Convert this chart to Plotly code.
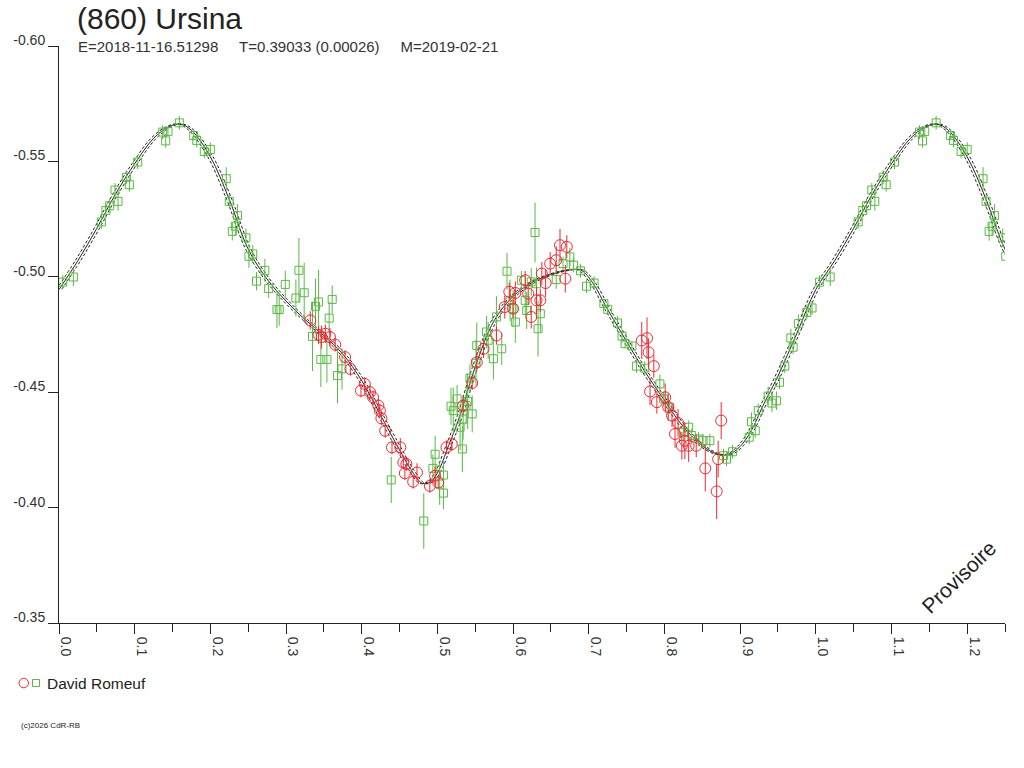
import plotly.graph_objects as go

# ---------------- data ----------------
green_phase = [0.005, 0.019, 0.056, 0.062, 0.067, 0.074, 0.078, 0.089, 0.093, 0.104,
               0.137, 0.141, 0.144, 0.159, 0.178, 0.182, 0.192, 0.200, 0.221, 0.225,
               0.229, 0.233, 0.236, 0.247, 0.251, 0.256, 0.261,
               0.272, 0.277, 0.288, 0.291, 0.299, 0.313, 0.317, 0.324, 0.335, 0.339,
               0.343, 0.346, 0.354, 0.357, 0.361, 0.368, 0.374, 0.439, 0.482, 0.494,
               0.497, 0.503, 0.508, 0.508, 0.518, 0.521, 0.526, 0.530, 0.533, 0.534,
               0.538, 0.540, 0.543, 0.546, 0.551, 0.552,
               0.565, 0.567, 0.574, 0.578, 0.585, 0.592, 0.596, 0.600, 0.603, 0.611,
               0.616, 0.618, 0.624, 0.629, 0.631, 0.633, 0.636, 0.657, 0.666, 0.675,
               0.680, 0.689, 0.697, 0.707,
               0.720, 0.725, 0.738, 0.744, 0.748, 0.757, 0.763, 0.774, 0.794, 0.799,
               0.807, 0.825, 0.832, 0.836, 0.845, 0.851, 0.860, 0.878, 0.882, 0.890,
               0.912, 0.915, 0.920, 0.924,
               0.937, 0.942, 0.948, 0.952, 0.959, 0.967, 0.970, 0.977, 0.988, 0.995]
green_mag = [-0.4977, -0.4999, -0.5238, -0.5287, -0.5308, -0.5376, -0.5327, -0.5431, -0.5399, -0.5497,
             -0.5627, -0.5589, -0.5630, -0.5667, -0.5612, -0.5591, -0.5543, -0.5552, -0.5425, -0.5327,
             -0.5197, -0.5219, -0.5265, -0.5169, -0.5089, -0.5099, -0.4981,
             -0.5028, -0.4949, -0.4858, -0.4858, -0.4967, -0.4908, -0.5028, -0.4931, -0.4742, -0.4872,
             -0.4891, -0.4642, -0.4642, -0.4821, -0.4902, -0.4572, -0.4601, -0.4120, -0.3942, -0.4170,
             -0.4231, -0.4102, -0.4141, -0.4063, -0.4439, -0.4420, -0.4471, -0.4348, -0.4254, -0.4384,
             -0.4442, -0.4460, -0.4561, -0.4406, -0.4626, -0.4702,
             -0.4761, -0.4725, -0.4645, -0.4826, -0.4688, -0.5024, -0.4898, -0.4862, -0.4804, -0.4985,
             -0.4898, -0.4854, -0.4978, -0.5192, -0.4970, -0.4775, -0.4840, -0.4988, -0.5057, -0.5086,
             -0.5050, -0.5026, -0.4959, -0.4973,
             -0.4884, -0.4859, -0.4800, -0.4743, -0.4710, -0.4700, -0.4613, -0.4604, -0.4536, -0.4471,
             -0.4435, -0.4326, -0.4348, -0.4312, -0.4297, -0.4290, -0.4290, -0.4225, -0.4210, -0.4242,
             -0.4305, -0.4372, -0.4333, -0.4420,
             -0.4483, -0.4453, -0.4463, -0.4543, -0.4613, -0.4735, -0.4695, -0.4797, -0.4845, -0.4865]
green_err = [0.003, 0.004, 0.003, 0.003, 0.003, 0.003, 0.004, 0.003, 0.003, 0.003,
             0.003, 0.003, 0.002, 0.003, 0.002, 0.003, 0.003, 0.003, 0.005, 0.003,
             0.004, 0.004, 0.005, 0.004, 0.005, 0.004, 0.004,
             0.005, 0.004, 0.008, 0.007, 0.006, 0.008, 0.014, 0.013, 0.015, 0.012,
             0.014, 0.012, 0.010, 0.007, 0.006, 0.012, 0.009, 0.010, 0.012, 0.006,
             0.008, 0.009, 0.006, 0.007, 0.008, 0.010, 0.006, 0.010, 0.010, 0.009,
             0.008, 0.012, 0.006, 0.008, 0.010, 0.010,
             0.007, 0.008, 0.009, 0.009, 0.007, 0.008, 0.009, 0.008, 0.009, 0.004,
             0.006, 0.008, 0.006, 0.013, 0.007, 0.012, 0.008, 0.004, 0.003, 0.004,
             0.003, 0.003, 0.003, 0.003,
             0.002, 0.002, 0.003, 0.003, 0.002, 0.002, 0.003, 0.003, 0.004, 0.003,
             0.003, 0.004, 0.003, 0.003, 0.003, 0.003, 0.003, 0.003, 0.003, 0.003,
             0.003, 0.004, 0.003, 0.003,
             0.004, 0.004, 0.004, 0.003, 0.003, 0.004, 0.003, 0.004, 0.003, 0.003]

red_phase = [0.332, 0.343, 0.347, 0.352, 0.358, 0.365, 0.378, 0.385, 0.399, 0.404,
             0.411, 0.415, 0.422, 0.424, 0.426, 0.431, 0.440, 0.451, 0.455, 0.459,
             0.457, 0.468, 0.473, 0.490, 0.497, 0.501, 0.512, 0.519, 0.534, 0.546,
             0.552, 0.561, 0.578, 0.589, 0.595, 0.600, 0.603, 0.616, 0.620, 0.624,
             0.631, 0.636, 0.638, 0.643, 0.649, 0.657, 0.662, 0.669, 0.671,
             0.770, 0.777, 0.779, 0.786, 0.781, 0.790, 0.801, 0.805, 0.810, 0.818,
             0.814, 0.827, 0.823, 0.832, 0.842, 0.854, 0.871, 0.875, 0.869]
red_mag = [-0.4811, -0.4749, -0.4739, -0.4753, -0.4739, -0.4706, -0.4652, -0.4601, -0.4507, -0.4536,
           -0.4500, -0.4478, -0.4442, -0.4420, -0.4387, -0.4333, -0.4261, -0.4261, -0.4196, -0.4189,
           -0.4149, -0.4112, -0.4152, -0.4094, -0.4138, -0.4109, -0.4261, -0.4275, -0.4442, -0.4540,
           -0.4630, -0.4688, -0.4746, -0.4869, -0.4935, -0.4862, -0.4930, -0.4985, -0.4927, -0.4826,
           -0.4898, -0.4898, -0.5014, -0.4973, -0.5057, -0.5072, -0.5137, -0.4992, -0.5130,
           -0.4724, -0.4734, -0.4673, -0.4613, -0.4503, -0.4457, -0.4478, -0.4435, -0.4399, -0.4367,
           -0.4319, -0.4290, -0.4268, -0.4268, -0.4268, -0.4170, -0.4210, -0.4377, -0.4070]
red_err = [0.004, 0.004, 0.005, 0.004, 0.004, 0.003, 0.003, 0.003, 0.003, 0.003,
           0.003, 0.003, 0.003, 0.003, 0.003, 0.003, 0.003, 0.004, 0.003, 0.003,
           0.003, 0.003, 0.004, 0.003, 0.004, 0.003, 0.003, 0.003, 0.004, 0.003,
           0.004, 0.004, 0.004, 0.005, 0.004, 0.004, 0.005, 0.004, 0.005, 0.005,
           0.006, 0.005, 0.005, 0.006, 0.005, 0.006, 0.007, 0.006, 0.005,
           0.008, 0.009, 0.006, 0.005, 0.006, 0.005, 0.006, 0.006, 0.005, 0.006,
           0.006, 0.008, 0.006, 0.007, 0.005, 0.010, 0.008, 0.008, 0.012]

curve_phase = [0.000, 0.025, 0.050, 0.075, 0.100, 0.125, 0.145, 0.160, 0.175, 0.200,
               0.225, 0.250, 0.275, 0.300, 0.325, 0.350, 0.375, 0.400, 0.425, 0.450,
               0.465, 0.480, 0.490, 0.500, 0.515, 0.530, 0.550, 0.575, 0.600, 0.625,
               0.650, 0.675, 0.690, 0.705, 0.725, 0.750, 0.775, 0.800, 0.825, 0.850,
               0.870, 0.885, 0.900, 0.915, 0.930, 0.950, 0.975, 1.000]
curve_mag = [-0.4945, -0.5070, -0.5210, -0.5360, -0.5490, -0.5600, -0.5650, -0.5662, -0.5635, -0.5520,
             -0.5335, -0.5120, -0.4990, -0.4895, -0.4815, -0.4745, -0.4665, -0.4550, -0.4400, -0.4250,
             -0.4165, -0.4105, -0.4110, -0.4150, -0.4270, -0.4400, -0.4610, -0.4810, -0.4915, -0.4975,
             -0.5010, -0.5030, -0.5028, -0.4975, -0.4858, -0.4720, -0.4585, -0.4465, -0.4350, -0.4268,
             -0.4232, -0.4230, -0.4265, -0.4335, -0.4440, -0.4570, -0.4755, -0.4945]
curve_shift = 0.0035

x_ticks = [0.0, 0.1, 0.2, 0.3, 0.4, 0.5, 0.6, 0.7, 0.8, 0.9, 1.0, 1.1, 1.2]
y_ticks = [-0.60, -0.55, -0.50, -0.45, -0.40, -0.35]

title_text = "(860) Ursina"
subtitle_text = ("E=2018-11-16.51298" + "&nbsp;" * 5 + "T=0.39033 (0.00026)" + "&nbsp;" * 5
                 + "M=2019-02-21")
observer = "David Romeuf"
copyright_text = "(c)2026 CdR-RB"
watermark = "Provisoire"

GREEN = "rgb(90,185,70)"
RED = "rgb(240,40,50)"
FONT = "Liberation Sans, Arial, sans-serif"

# plot area in pixels
L, R, T, B = 59, 1005, 46, 623
PW, PH = R - L, B - T


def px(xp):
    return (xp - L) / PW


def py(yp):
    return (B - yp) / PH


# phase-folded light curve repeats beyond phase 1.0
def wrap(xs, ys, es):
    ox, oy, oe = list(xs), list(ys), list(es)
    for x, y, e in zip(xs, ys, es):
        if x + 1 <= 1.3:
            ox.append(x + 1)
            oy.append(y)
            oe.append(e)
    return ox, oy, oe


cx = list(curve_phase) + [p + 1 for p in curve_phase[1:] if p + 1 <= 1.3]
cy = list(curve_mag) + [m for p, m in zip(curve_phase[1:], curve_mag[1:]) if p + 1 <= 1.3]

fig = go.Figure()

for s in (-curve_shift, curve_shift):
    fig.add_trace(go.Scatter(x=[p + s for p in cx], y=cy, mode="lines",
                             line=dict(color="#222", width=1, dash="3px,2px", shape="spline"),
                             hoverinfo="skip", showlegend=False))
fig.add_trace(go.Scatter(x=cx, y=cy, mode="lines",
                         line=dict(color="#222", width=1, shape="spline"),
                         hoverinfo="skip", showlegend=False))

gx, gy, ge = wrap(green_phase, green_mag, green_err)
fig.add_trace(go.Scatter(x=gx, y=gy, mode="markers",
                         marker=dict(symbol="square-open", size=8, color=GREEN,
                                     line=dict(width=1, color=GREEN)),
                         error_y=dict(type="data", array=ge, color=GREEN, thickness=1, width=0),
                         showlegend=False))
rx, ry, re_ = wrap(red_phase, red_mag, red_err)
fig.add_trace(go.Scatter(x=rx, y=ry, mode="markers",
                         marker=dict(symbol="circle-open", size=11, color=RED,
                                     line=dict(width=1, color=RED)),
                         error_y=dict(type="data", array=re_, color=RED, thickness=1, width=0),
                         showlegend=False))

fig.update_layout(
    width=1024, height=768,
    margin=dict(l=L, r=1024 - R, t=T, b=768 - B, autoexpand=False),
    paper_bgcolor="white", plot_bgcolor="white",
    font=dict(family=FONT, color="#333", size=14),
    showlegend=False,
    hovermode=False,
    xaxis=dict(range=[0, 1.25], tickvals=x_ticks, ticktext=[f"{v:.1f}" for v in x_ticks],
               ticks="outside", ticklen=10, tickcolor="#222", tickwidth=1,
               showline=True, linecolor="#222", linewidth=1, showgrid=False, zeroline=False,
               tickangle=90, ticklabelshift=7, tickfont=dict(size=14, color="#333"),
               minor=dict(dtick=0.05, tick0=0, ticks="outside", ticklen=8, tickcolor="#222",
                          showgrid=False)),
    yaxis=dict(range=[-0.35, -0.60], tickvals=y_ticks, ticktext=[f"{v:.2f}" for v in y_ticks],
               ticks="outside", ticklen=10, tickcolor="#222", tickwidth=1,
               showline=True, linecolor="#222", linewidth=1, showgrid=False, zeroline=False,
               ticklabelshift=6, ticklabelstandoff=0, tickfont=dict(size=14, color="#333")),
    shapes=[
        dict(type="circle", xref="paper", yref="paper",
             x0=px(19), x1=px(28.5), y0=py(687.8), y1=py(678.3),
             line=dict(color=RED, width=1)),
        dict(type="rect", xref="paper", yref="paper",
             x0=px(32.5), x1=px(39.5), y0=py(686.5), y1=py(679.5),
             line=dict(color=GREEN, width=1)),
    ],
    annotations=[
        dict(text=title_text, xref="paper", yref="paper", x=px(75), y=py(19),
             xanchor="left", yanchor="middle", showarrow=False,
             font=dict(size=30, color="#222")),
        dict(text=subtitle_text, xref="paper", yref="paper", x=px(76), y=py(47),
             xanchor="left", yanchor="middle", showarrow=False,
             font=dict(size=15, color="#333")),
        dict(text=observer, xref="paper", yref="paper", x=px(45), y=py(683),
             xanchor="left", yanchor="middle", showarrow=False,
             font=dict(size=15.5, color="#222")),
        dict(text=copyright_text, xref="paper", yref="paper", x=px(19), y=py(725),
             xanchor="left", yanchor="middle", showarrow=False,
             font=dict(size=8, color="#222")),
        dict(text=watermark, xref="paper", yref="paper", x=px(958), y=py(577),
             xanchor="center", yanchor="middle", showarrow=False, textangle=-44,
             font=dict(size=21, color="#222")),
    ],
)

fig.write_html("out.html", config={"displayModeBar": False, "staticPlot": True},
               post_script="document.body.style.margin='0';")
